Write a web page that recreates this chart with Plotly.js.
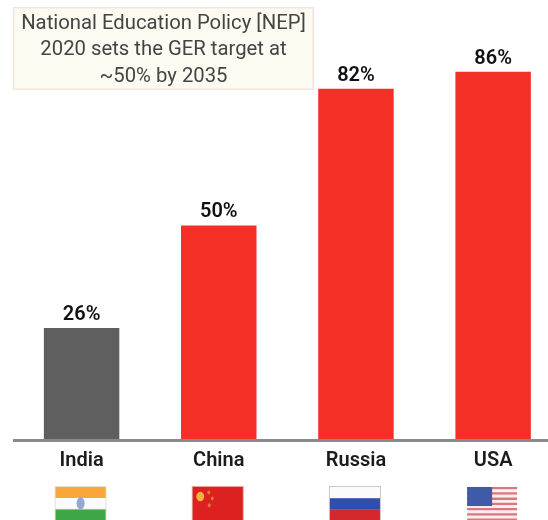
<!DOCTYPE html>
<html>
<head>
<meta charset="utf-8">
<script src="https://cdn.plot.ly/plotly-3.0.1.min.js"></script>
<style>html,body{margin:0;padding:0;background:#fff;overflow:hidden}#chart{width:548px;height:520px;filter:blur(0.7px)}</style>
</head>
<body>
<div id="chart"></div>
<script>
const countries = ['India', 'China', 'Russia', 'USA'];
const gerValues = [26, 50, 82, 86];
const valueLabels = ['26%', '50%', '82%', '86%'];
const barColors = ['#5f5f5f', '#f42f25', '#f42f25', '#f42f25'];
const noteText = 'National Education Policy [NEP]<br>2020 sets the GER target at<br>~50% by 2035';

const plotHeight = 439;
const unitPx = 137.2;
const flagHalf = 25 / unitPx;
const flagShift = -1 / unitPx;
const py = p => 1 - p / plotHeight;
const flagTop = 487, flagBottom = 521;

function rect(xi, a, b, top, bottom, color, kind) {
  return {type:kind || 'rect', xref:'x', yref:'paper', layer:'above', line:{width:0}, fillcolor:color,
    x0:xi + flagShift - flagHalf + a * 2 * flagHalf, x1:xi + flagShift - flagHalf + b * 2 * flagHalf,
    y0:py(flagTop + top * (flagBottom - flagTop)), y1:py(flagTop + bottom * (flagBottom - flagTop))};
}
function frame(xi, color) {
  const r = rect(xi, -0.02, 1.02, -0.03, 1.03, color);
  return r;
}
const shapes = [];
// India
shapes.push(frame(0,'#e6e0d0'), rect(0,0,1,0,.32,'#f9a63a'), rect(0,0,1,.32,.64,'#fbfbfb'), rect(0,0,1,.66,1,'#3fa648'), rect(0,.42,.58,.3,.66,'#9aa6cf','circle'));
// China
shapes.push(frame(1,'#eaa0a0'), rect(1,0,1,0,1,'#dd2020'), rect(1,.07,.23,.14,.42,'#f6b040','circle'), rect(1,.29,.35,.1,.22,'#e8703a','circle'), rect(1,.36,.42,.28,.4,'#e8703a','circle'), rect(1,.3,.36,.48,.6,'#e8703a','circle'));
// Russia
shapes.push(frame(2,'#c8c8cc'), rect(2,0,1,0,1/3,'#fbfbfb'), rect(2,0,1,1/3,2/3,'#2f4eb0'), rect(2,0,1,2/3,1,'#d5282c'));
// USA
for (let s = 0; s < 13; s++) shapes.push(rect(3,0,1,s/13,(s+1)/13, s % 2 ? '#fbeeee' : '#d9777c'));
shapes.push(rect(3,0,.5,0,.56,'#3f5aa8'));

const data = [{
  type:'bar', x:countries, y:gerValues, width:0.55,
  marker:{color:barColors, line:{width:0}},
  text:valueLabels, textposition:'outside', cliponaxis:false,
  textfont:{family:'Roboto', size:20, color:'#111', weight:600},
  hoverinfo:'skip'
}];
const layout = {
  width:548, height:520, autosize:false, showlegend:false, bargap:0.45,
  paper_bgcolor:'#fff', plot_bgcolor:'#fff',
  margin:{l:13, r:0, t:0, b:81},
  xaxis:{type:'category', categoryorder:'array', categoryarray:countries, range:[-0.5, 3.4],
    showgrid:false, zeroline:false, showline:true, linecolor:'#8a8a8a', linewidth:3, ticks:'', ticklen:0,
    tickfont:{family:'Roboto', size:20, color:'#1c1c1c', weight:600}, automargin:false},
  yaxis:{range:[0, 102.8], showgrid:false, zeroline:false, showline:false, showticklabels:false, ticks:''},
  shapes:shapes,
  annotations:[{
    xref:'paper', yref:'paper', x:(163-13)/535, y:py(48), xanchor:'center', yanchor:'middle',
    text:noteText, showarrow:false, align:'center', width:298, height:80,
    font:{family:'Roboto', size:20.3, color:'#444'},
    bgcolor:'#fdfaf1', bordercolor:'#f3e4dc', borderwidth:1.5, borderpad:0
  }]
};
Plotly.newPlot('chart', data, layout, {staticPlot:true, displayModeBar:false});
</script>
</body>
</html>
